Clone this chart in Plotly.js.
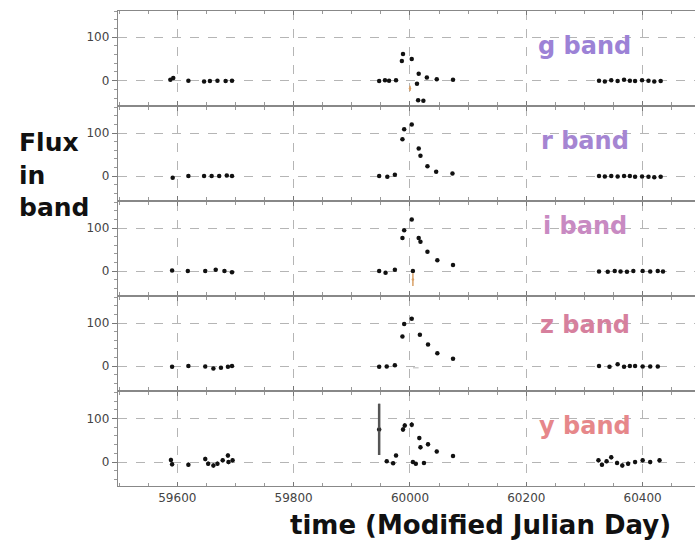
<!DOCTYPE html>
<html>
<head>
<meta charset="utf-8">
<script src="https://cdn.plot.ly/plotly-3.0.1.min.js"></script>
<style>html,body{margin:0;padding:0;background:#fff;}#plot{width:695px;height:549px;}</style>
</head>
<body>
<div id="plot"></div>
<script>
// ---- data ----
const bandNames = ["g band", "r band", "i band", "z band", "y band"];
const bandColors = ["#9c82d6", "#a585d2", "#c88ac2", "#d6809d", "#e6878a"];
const labelY = [80, 82, 104, 96, 84];

const mjd_g = [59588,59593,59619,59646,59656,59669,59683,59694, 59947,59957,59964,59976, 59986,59988,60003,60012,60015,60029,60046,60074, 60014,60023, 60325,60335,60346,60357,60368,60378,60387,60399,60410,60420,60431];
const flux_g = [2,6,0,-2,-1,0,-1,0, -1,1,0,1, 45,61,50,-7,16,7,3,2, -45,-46, 0,-2,1,-1,2,0,-1,1,0,-2,-1];

const mjd_r = [59592,59619,59646,59659,59672,59685,59694, 59947,59961,59974, 59987,59990,60003,60015,60018,60030,60045,60073, 60325,60335,60346,60357,60368,60378,60387,60399,60410,60420,60431];
const flux_r = [-4,0,0,0,0,1,0, 0,-2,3, 86,109,120,64,47,23,10,6, 0,-1,0,-1,0,0,-2,-1,-2,-3,-2];

const mjd_i = [59591,59618,59648,59666,59681,59694, 59947,59958,59974, 59987,59990,60003,60005,60015,60018,60030,60047,60074, 60325,60340,60352,60362,60373,60384,60400,60413,60426,60435];
const flux_i = [1,0,0,3,0,-3, 0,-4,3, 77,95,120,0,77,68,45,25,14, -1,-2,0,-1,-2,0,0,-1,0,-1];

const mjd_z = [59591,59619,59648,59662,59675,59687,59694, 59947,59960,59974, 59987,59990,60003,60017,60031,60047,60074, 60325,60343,60357,60368,60378,60387,60400,60413,60426];
const flux_z = [-2,0,-1,-6,-4,-2,0, -2,-1,2, 69,98,110,73,50,30,17, 0,-2,4,-2,0,0,-1,-1,-1];

const mjd_y = [59589,59591,59619,59648,59653,59662,59669,59678,59687,59688,59695, 59947,59960,59971,59976, 59988,59991,60003,60005,60010,60016,60018,60024,60031,60046,60074, 60324,60330,60338,60346,60356,60365,60375,60387,60400,60413,60429];
const flux_y = [5,-5,-6,7,-4,-8,-4,4,15,0,4, 75,2,-3,15, 75,84,86,0,-4,55,34,-2,41,24,14, 4,-6,2,11,-2,-8,-4,0,4,0,4];
const err_y  = [5,5,5,5,5,5,5,5,5,5,5, 59,4,4,4, 6,6,6,4,4,5,5,4,5,4,4, 5,5,5,5,5,5,5,5,5,5,5];

// flagged (orange) points
const flag_mjd = [60000, 60005];
const flag_flux = [-18, -20];
const flag_err = [6, 15];
const flag_panel = [0, 2];
// faint grey point in z band
const faint_mjd = [60010];
const faint_flux = [-4];

const allMjd = [mjd_g, mjd_r, mjd_i, mjd_z, mjd_y];
const allFlux = [flux_g, flux_r, flux_i, flux_z, flux_y];

// ---- build ----
const traces = [];
const axName = k => (k === 0 ? "" : String(k + 1));
for (let k = 0; k < 5; k++) {
  traces.push({
    x: allMjd[k], y: allFlux[k], type: "scatter", mode: "markers",
    xaxis: "x" + axName(k), yaxis: "y" + axName(k),
    marker: {color: "#111", size: 4.5},
    error_y: k === 4
      ? {type: "data", array: err_y, visible: true, color: "#444", thickness: 1.2, width: 0}
      : {type: "constant", value: 3, visible: true, color: "#222", thickness: 1, width: 0},
    showlegend: false, hoverinfo: "x+y"
  });
}
traces.push({
  x: [mjd_y[11]], y: [flux_y[11]], type: "scatter", mode: "markers",
  xaxis: "x5", yaxis: "y5", marker: {color: "#333", size: 3},
  error_y: {type: "data", array: [err_y[11]], color: "#555", thickness: 2.5, width: 0},
  showlegend: false
});
for (let j = 0; j < flag_mjd.length; j++) {
  const k = flag_panel[j];
  traces.push({
    x: [flag_mjd[j]], y: [flag_flux[j]], type: "scatter", mode: "markers",
    xaxis: "x" + axName(k), yaxis: "y" + axName(k),
    marker: {color: "#d9a066", size: 2.5},
    error_y: {type: "data", array: [flag_err[j]], color: "#d9a066", thickness: 1.5, width: 0},
    showlegend: false
  });
}
traces.push({
  x: faint_mjd, y: faint_flux, type: "scatter", mode: "markers",
  xaxis: "x4", yaxis: "y4", marker: {color: "#cfcfcf", size: 4, symbol: "line-ew-open", line: {color: "#cfcfcf", width: 1.5}},
  showlegend: false
});

const layout = {
  width: 695, height: 549,
  margin: {l: 118, r: 0, t: 11, b: 63},
  paper_bgcolor: "#fff", plot_bgcolor: "#fff",
  font: {family: "DejaVu Sans", size: 12, color: "#444"},
  showlegend: false,
  annotations: []
};
const gap = 0.003;
for (let k = 0; k < 5; k++) {
  const top = 1 - k * 0.2, bot = 1 - (k + 1) * 0.2;
  const xa = {
    range: [59498, 60490], domain: [0, 1],
    anchor: "y" + axName(k),
    showline: true, linecolor: "#888", linewidth: 1.2, mirror: "ticks",
    ticks: "inside", ticklen: 4, tickcolor: "#777",
    tick0: 59600, dtick: 200, tickformat: "d", exponentformat: "none", separatethousands: false,
    minor: {dtick: 50, tick0: 59600, ticks: "inside", ticklen: 3, tickcolor: "#999", showgrid: false},
    showgrid: true, gridcolor: "#b5b5b5", griddash: "dash", gridwidth: 1,
    zeroline: false, showticklabels: k === 4,
    tickfont: {family: "DejaVu Sans", size: 12, color: "#444"}
  };
  if (k > 0) xa.matches = "x";
  const ya = {
    range: [-55, 160], domain: [bot + (k === 4 ? 0 : gap), top - (k === 0 ? 0 : gap)],
    anchor: "x" + axName(k),
    showline: true, linecolor: "#888", linewidth: 1.2, mirror: false,
    ticks: "outside", ticklen: 5, tickcolor: "#777",
    tick0: 0, dtick: 100,
    minor: {dtick: 20, tick0: 0, ticks: "outside", ticklen: 3, tickcolor: "#999", showgrid: false},
    showgrid: true, gridcolor: "#b5b5b5", griddash: "dash", gridwidth: 1,
    zeroline: false,
    tickfont: {family: "DejaVu Sans", size: 12, color: "#444"}
  };
  layout["xaxis" + axName(k)] = xa;
  layout["yaxis" + axName(k)] = ya;
  layout.annotations.push({
    text: bandNames[k], xref: "paper", x: 0.809, xanchor: "center",
    yref: "y" + axName(k), y: labelY[k], yanchor: "middle", showarrow: false,
    font: {family: "DejaVu Sans", size: 24, color: bandColors[k], weight: "bold"}
  });
}
layout.annotations.push({
  text: "<b>time (Modified Julian Day)</b>", xref: "paper", yref: "paper",
  x: 0.629, y: -0.082, xanchor: "center", yanchor: "middle", showarrow: false,
  font: {family: "DejaVu Sans", size: 26, color: "#111"}
});
layout.annotations.push({
  text: "<b>Flux<br>in<br>band</b>", xref: "paper", yref: "paper",
  x: -0.175, y: 0.655, xanchor: "left", yanchor: "middle", align: "left", showarrow: false,
  font: {family: "DejaVu Sans", size: 25, color: "#111"}
});

Plotly.newPlot("plot", traces, layout, {staticPlot: true, displayModeBar: false});
</script>
</body>
</html>
